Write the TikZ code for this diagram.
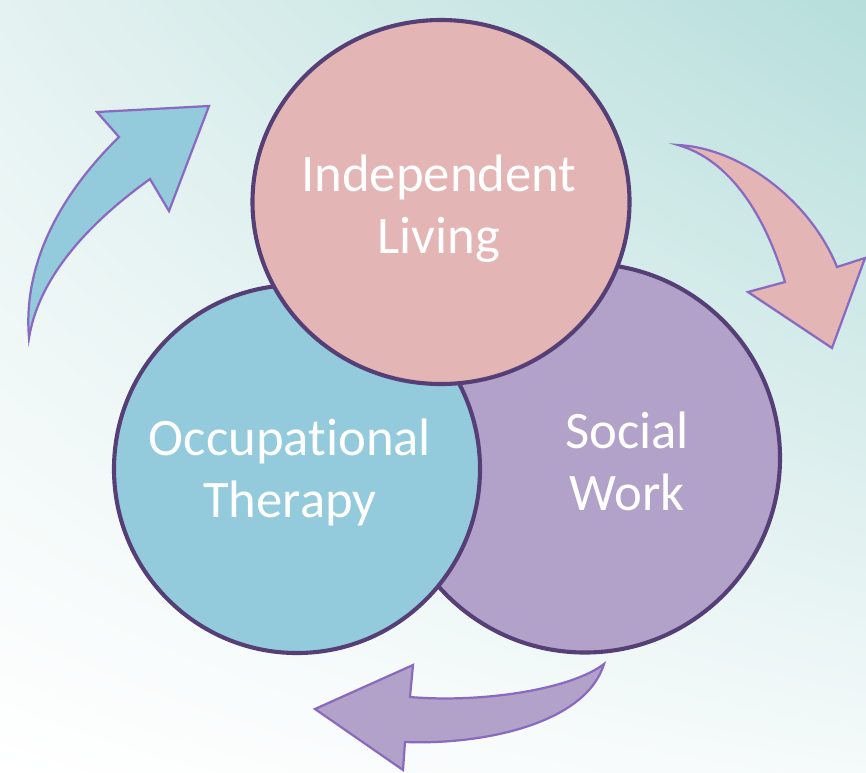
\documentclass[tikz,border=0pt]{standalone}
\usepackage{fontspec}
\setmainfont[Ligatures=NoCommon]{Carlito}
\usetikzlibrary{shapes.geometric,shadings}
\definecolor{rim}{HTML}{553F76}
\definecolor{arrowrim}{HTML}{8A6AC0}
\definecolor{pinkfill}{HTML}{E4B5B5}
\definecolor{bluefill}{HTML}{93CBDC}
\definecolor{lilacfill}{HTML}{B2A1C8}
\definecolor{tealbg}{HTML}{B6DEDB}
\definecolor{palebg}{HTML}{E4F2F1}
\definecolor{lightbg}{HTML}{F5FAFA}
\tikzset{
 field/.style={ellipse,draw=rim,line width=3.5pt,inner sep=0pt},
 fieldtext/.style={text=white,align=center,font=\fontsize{45}{53}\selectfont},
 turn/.style={draw=arrowrim,line width=1.9pt,line join=miter}
}
\begin{document}
\begin{tikzpicture}[x=0.03cm,y=-0.03cm]
\useasboundingbox(0,0)rectangle(866,772);
%background
\shade[upper left=palebg,upper right=tealbg,lower left=white,lower right=lightbg](0,0)rectangle(866,772);
%circles
\node[field,fill=lilacfill,minimum width=11.7cm,minimum height=11.67cm](work)at(585,458){};
\node[field,fill=bluefill,minimum width=10.98cm,minimum height=11.04cm](therapy)at(297,469){};
\node[field,fill=pinkfill,minimum width=11.31cm,minimum height=10.92cm](living)at(441,202){};
%labels
\node[fieldtext](livingtext)at(439,209){Independent\\Living};
\node[fieldtext](therapytext)at(290,472){Occupational\\Therapy};
\node[fieldtext](worktext)at(627,461){Social\\Work};
%curved arrows
\draw[turn,fill=bluefill](29,338)..controls(22,255)and(70,185)..(119,137)--(97,112)--(209,106)--(169,211)--(150,179)..controls(100,215)and(40,270)..(29,338)--cycle;
\draw[turn,fill=pinkfill](678,145)..controls(740,148)and(810,200)..(837,267)--(865,258)--(832,348)--(748,292)--(785,282)..controls(765,215)and(730,160)..(678,145)--cycle;
\draw[turn,fill=lilacfill](604,664)..controls(585,725)and(480,745)..(405,742)--(403,770)--(315,709)--(413,665)--(410,697)..controls(480,703)and(570,690)..(604,664)--cycle;
\end{tikzpicture}
\end{document}
